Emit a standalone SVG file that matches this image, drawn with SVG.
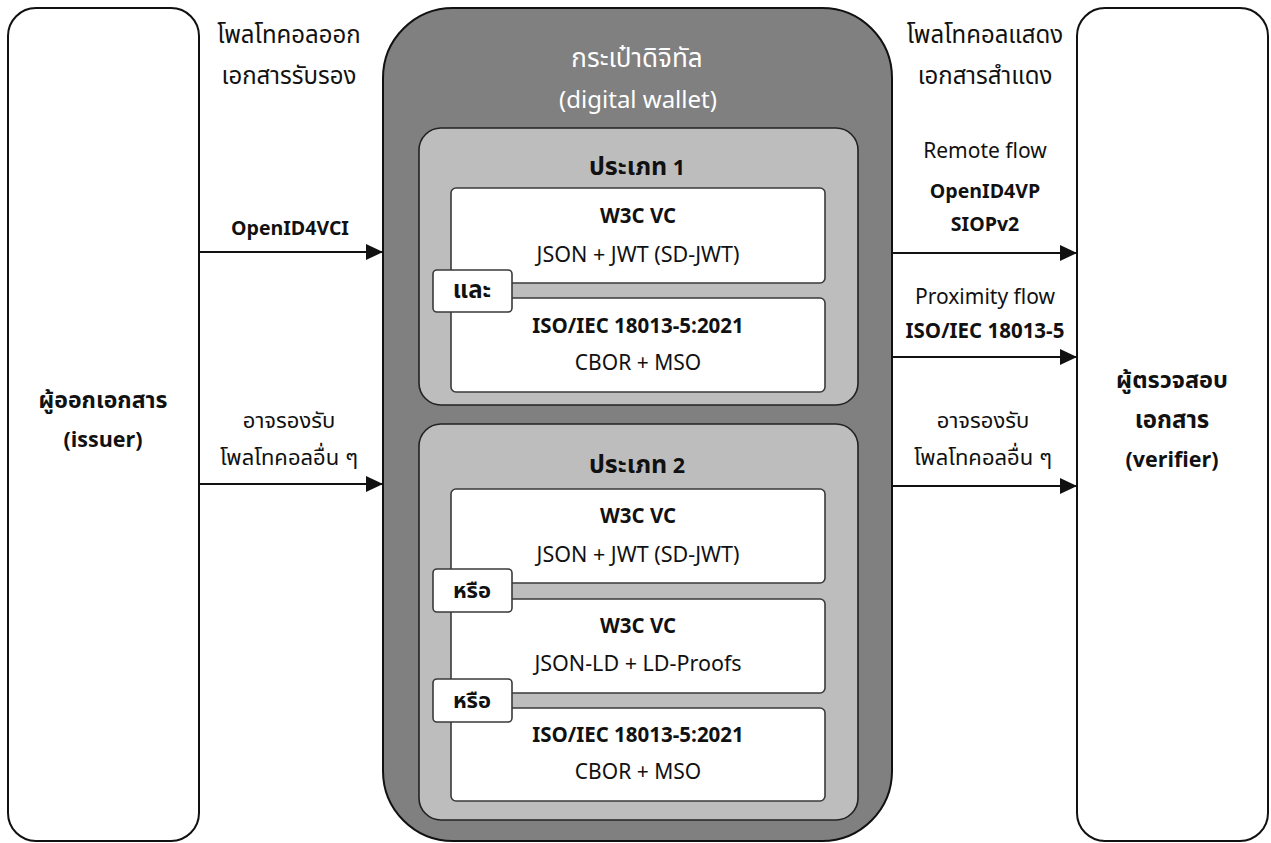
<svg xmlns="http://www.w3.org/2000/svg" width="1271" height="843" viewBox="0 0 1271 843">
  <style>
    text { font-family: "Noto Sans Thai", "Noto Sans", "DejaVu Sans", sans-serif; font-size: 20px; fill: #111; text-anchor: middle; }
    .b { font-weight: bold; font-size: 19.5px; }
    .th { font-size: 22px; }
    .thh { font-size: 24px; }
    .w { fill: #ffffff; }
    .actor { fill: #ffffff; stroke: #111; stroke-width: 2; }
    .wallet { fill: #808080; stroke: #111; stroke-width: 2; }
    .panel { fill: #bdbdbd; stroke: #222; stroke-width: 1.6; }
    .fmt { fill: #ffffff; stroke: #3a3a3a; stroke-width: 1.6; }
    .tag { fill: #ffffff; stroke: #3a3a3a; stroke-width: 1.6; }
    .conn { stroke: #111; stroke-width: 2; fill: none; marker-end: url(#arrow); }
  </style>
  <defs>
    <marker id="arrow" markerWidth="17" markerHeight="16" refX="17" refY="8" orient="auto" markerUnits="userSpaceOnUse">
      <path d="M0,0 L17,8 L0,16 Z" fill="#111"/>
    </marker>
  </defs>
  <rect width="1271" height="843" fill="#ffffff"/>

  <!-- issuer -->
  <g id="issuer">
    <rect class="actor" x="8" y="8" width="191" height="833" rx="28"/>
    <text class="b th" x="103" y="408" style="font-size:23px">ผู้ออกเอกสาร</text>
    <text class="b" x="103" y="447" style="font-size:21.5px">(issuer)</text>
  </g>

  <!-- verifier -->
  <g id="verifier">
    <rect class="actor" x="1077" y="8" width="191" height="833" rx="28"/>
    <text class="b" x="1172" y="388" style="font-size:23.5px">ผู้ตรวจสอบ</text>
    <text class="b" x="1172" y="428" style="font-size:24px">เอกสาร</text>
    <text class="b" x="1172" y="467" style="font-size:21.5px">(verifier)</text>
  </g>

  <!-- digital wallet -->
  <g id="wallet">
    <rect class="wallet" x="383" y="8" width="509" height="833" rx="70"/>
    <text class="w" x="637" y="67" style="font-size:26px">กระเป๋าดิจิทัล</text>
    <text class="w" x="638" y="108" style="font-size:24px">(digital wallet)</text>
  </g>

  <!-- type 1 -->
  <g id="type1">
    <rect class="panel" x="419" y="128" width="439" height="277" rx="22"/>
    <text class="b" x="637" y="175" style="font-size:21.5px"><tspan style="font-size:25px">ประเภท</tspan> 1</text>
    <rect class="fmt" x="451" y="188" width="374" height="95" rx="5"/>
    <text class="b" x="638" y="223" style="font-size:20.5px">W3C VC</text>
    <text x="638" y="262" style="font-size:21.5px">JSON + JWT (SD-JWT)</text>
    <rect class="fmt" x="451" y="298" width="374" height="94" rx="5"/>
    <text class="b" x="638" y="333" style="font-size:20.5px">ISO/IEC 18013-5:2021</text>
    <text x="638" y="370" style="font-size:21px">CBOR + MSO</text>
  </g>
  <g id="tag-and">
    <rect class="tag" x="433" y="270" width="79" height="42" rx="4"/>
    <text class="b" x="472" y="298" style="font-size:24px">และ</text>
  </g>

  <!-- type 2 -->
  <g id="type2">
    <rect class="panel" x="419" y="424" width="439" height="396" rx="22"/>
    <text class="b" x="637" y="473" style="font-size:21.5px"><tspan style="font-size:25px">ประเภท</tspan> 2</text>
    <rect class="fmt" x="451" y="489" width="374" height="94" rx="5"/>
    <text class="b" x="638" y="523" style="font-size:20.5px">W3C VC</text>
    <text x="638" y="562" style="font-size:21.5px">JSON + JWT (SD-JWT)</text>
    <rect class="fmt" x="451" y="599" width="374" height="94" rx="5"/>
    <text class="b" x="638" y="633" style="font-size:20.5px">W3C VC</text>
    <text x="638" y="671" style="font-size:21.5px">JSON-LD + LD-Proofs</text>
    <rect class="fmt" x="451" y="708" width="374" height="93" rx="5"/>
    <text class="b" x="638" y="742" style="font-size:20.5px">ISO/IEC 18013-5:2021</text>
    <text x="638" y="779" style="font-size:21px">CBOR + MSO</text>
  </g>
  <g id="tag-or-1">
    <rect class="tag" x="433" y="569" width="79" height="43" rx="4"/>
    <text class="b" x="472" y="598" style="font-size:22px">หรือ</text>
  </g>
  <g id="tag-or-2">
    <rect class="tag" x="433" y="679" width="79" height="43" rx="4"/>
    <text class="b" x="472" y="708" style="font-size:22px">หรือ</text>
  </g>

  <!-- column headings -->
  <g id="issue-heading">
    <text class="thh" x="289" y="43">โพลโทคอลออก</text>
    <text class="thh" x="289" y="84">เอกสารรับรอง</text>
  </g>
  <g id="present-heading">
    <text class="thh" x="985" y="43">โพลโทคอลแสดง</text>
    <text class="thh" x="985" y="84">เอกสารสำแดง</text>
  </g>

  <!-- connectors -->
  <g id="connectors">
    <line class="conn" x1="199" y1="252" x2="383" y2="252"/>
    <text class="b" x="290" y="235">OpenID4VCI</text>

    <line class="conn" x1="199" y1="484" x2="383" y2="484"/>
    <text class="th" x="289" y="428">อาจรองรับ</text>
    <text class="th" x="289" y="465">โพลโทคอลอื่น ๆ</text>

    <line class="conn" x1="892" y1="253" x2="1077" y2="253"/>
    <text x="985" y="158" style="font-size:21px">Remote flow</text>
    <text class="b" x="985" y="198">OpenID4VP</text>
    <text class="b" x="985" y="231">SIOPv2</text>

    <line class="conn" x1="892" y1="357" x2="1077" y2="357"/>
    <text x="985" y="304" style="font-size:21px">Proximity flow</text>
    <text class="b" x="985" y="338" style="font-size:20.5px">ISO/IEC 18013-5</text>

    <line class="conn" x1="892" y1="486" x2="1077" y2="486"/>
    <text class="th" x="983" y="428">อาจรองรับ</text>
    <text class="th" x="983" y="465">โพลโทคอลอื่น ๆ</text>
  </g>
</svg>
